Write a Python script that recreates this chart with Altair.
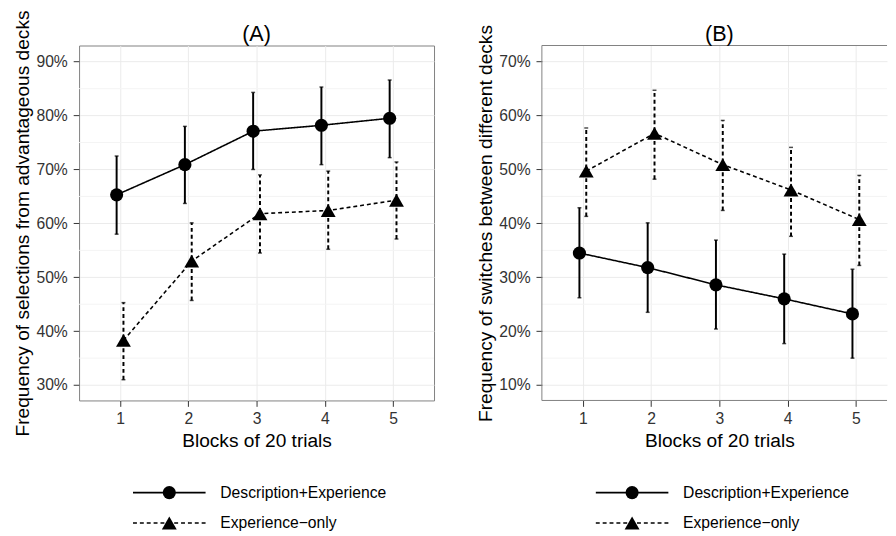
import altair as alt
import pandas as pd

FONT = "Liberation Sans"

blocks = [1, 2, 3, 4, 5]
series_names = ["Description+Experience", "Experience\u2212only"]

# Panel A: frequency of selections from advantageous decks (%)
a_de_mean = [65.3, 70.9, 77.1, 78.2, 79.5]
a_de_low = [58.0, 63.7, 70.0, 70.9, 72.2]
a_de_high = [72.5, 78.0, 84.3, 85.3, 86.6]
a_eo_mean = [38.3, 53.0, 61.8, 62.4, 64.3]
a_eo_low = [31.0, 45.7, 54.5, 55.2, 57.1]
a_eo_high = [45.3, 60.1, 69.0, 69.7, 71.4]

# Panel B: frequency of switches between different decks (%)
b_de_mean = [34.5, 31.8, 28.6, 26.0, 23.2]
b_de_low = [26.2, 23.5, 20.4, 17.7, 15.0]
b_de_high = [42.9, 40.1, 36.9, 34.3, 31.5]
b_eo_mean = [49.7, 56.7, 50.9, 46.2, 40.7]
b_eo_low = [41.3, 48.2, 42.4, 37.6, 32.2]
b_eo_high = [57.7, 64.7, 59.1, 54.1, 48.9]

a_ticks = [30, 40, 50, 60, 70, 80, 90]
a_minor = [35, 45, 55, 65, 75, 85]
b_ticks = [10, 20, 30, 40, 50, 60, 70]
b_minor = [15, 25, 35, 45, 55, 65]


def frame(de_mean, de_low, de_high, eo_mean, eo_low, eo_high):
    rows = []
    for s, m, lo, hi in [(series_names[0], de_mean, de_low, de_high),
                         (series_names[1], eo_mean, eo_low, eo_high)]:
        for b, mm, l, h in zip(blocks, m, lo, hi):
            rows.append({"block": b, "series": s, "mean": mm, "low": l, "high": h})
    return pd.DataFrame(rows)


H = 362
FULL_W = 362

dash = alt.StrokeDash("series:N", scale=alt.Scale(domain=series_names, range=[[1, 0], [4, 3]]), legend=None)
shape = alt.Shape("series:N", scale=alt.Scale(domain=series_names, range=["circle", "triangle-up"]), legend=None)
size = alt.Size("series:N", scale=alt.Scale(domain=series_names, range=[180, 230]), legend=None)


def panel(df, y_domain, ticks, minor, ytitle, title, width, x_max, cut):
    dodge = "datum.block + (datum.series === '%s' ? -0.05 : 0.05)" % series_names[0]
    xaxis = alt.Axis(values=blocks, format="d", title="Blocks of 20 trials", grid=True,
                     titleX=FULL_W / 2, labelPadding=4.5, titlePadding=5.5)
    x = alt.X("xpos:Q", scale=alt.Scale(domain=[0.4, x_max], nice=False, zero=False), axis=xaxis)
    yaxis = alt.Axis(values=ticks, labelExpr="datum.value + '%'", title=ytitle, grid=True,
                     labelPadding=6, titlePadding=3.5)
    yscale = alt.Scale(domain=y_domain, nice=False, zero=False)

    def Y(field):
        return alt.Y(field + ":Q", scale=yscale, axis=yaxis)

    minor_df = pd.DataFrame({"mean": minor})
    minor_layer = alt.Chart(minor_df).mark_rule(color="#f4f4f4", strokeWidth=1).encode(y=Y("mean"))

    base = alt.Chart(df).transform_calculate(xpos=dodge)
    lines = base.mark_line(color="black", strokeWidth=1.6).encode(x=x, y=Y("mean"), strokeDash=dash)
    bars = base.mark_rule(color="black", strokeWidth=2).encode(
        x=x, y=Y("low"), y2="high:Q", strokeDash=dash)
    cap_lo = base.mark_tick(color="black", orient="horizontal", size=4, thickness=1.5).encode(x=x, y=Y("low"))
    cap_hi = base.mark_tick(color="black", orient="horizontal", size=4, thickness=1.5).encode(x=x, y=Y("high"))
    pts = base.mark_point(filled=True, opacity=1, color="black").encode(
        x=x, y=Y("mean"), shape=shape, size=size)

    layers = [minor_layer, lines, bars, cap_lo, cap_hi, pts]
    one = pd.DataFrame({"k": [0]})
    if cut:
        bc = "#7f7f7f"
        layers += [
            alt.Chart(one).mark_rule(color=bc, strokeWidth=1).encode(
                x=alt.value(0), x2=alt.value(width), y=alt.value(0)),
            alt.Chart(one).mark_rule(color=bc, strokeWidth=1).encode(
                x=alt.value(0), y=alt.value(0), y2=alt.value(H)),
            alt.Chart(one).mark_rule(color=bc, strokeWidth=1).encode(
                x=alt.value(0), x2=alt.value(width), y=alt.value(H)),
        ]
    main = alt.layer(*layers)

    title_df = pd.DataFrame({"t": [title]})
    title_layer = alt.Chart(title_df).mark_text(
        fontSize=22, font=FONT, color="black", align="center", baseline="alphabetic").encode(
        x=alt.value(FULL_W / 2), y=alt.value(-5), text="t:N")

    leg_df = pd.DataFrame({"series": series_names})
    ly = alt.Y("series:N", scale=alt.Scale(type="point", domain=series_names, range=[456, 487], padding=0),
               axis=None)
    leg = alt.Chart(leg_df)
    legend = alt.layer(
        leg.mark_rule(color="black", strokeWidth=1.6).encode(
            x=alt.value(55), x2=alt.value(129), y=ly, strokeDash=dash),
        leg.mark_point(filled=True, opacity=1, color="black").encode(
            x=alt.value(92), y=ly, shape=shape, size=size),
        leg.mark_text(align="left", baseline="middle", fontSize=16, font=FONT, color="black").encode(
            x=alt.value(144), y=ly, text="series:N"),
    )
    view = alt.ViewBackground(stroke="transparent") if cut else alt.ViewBackground(stroke="#7f7f7f", strokeWidth=1)
    return alt.layer(main, title_layer, legend).resolve_scale(y="independent").properties(
        width=width, height=H, view=view,
    )


dfA = frame(a_de_mean, a_de_low, a_de_high, a_eo_mean, a_eo_low, a_eo_high)
dfB = frame(b_de_mean, b_de_low, b_de_high, b_eo_mean, b_eo_low, b_eo_high)

WB = 352
chartA = panel(dfA, [27.15, 93.0], a_ticks, a_minor,
               "Frequency of selections from advantageous decks", "(A)", FULL_W, 5.6, False)
chartB = panel(dfB, [7.15, 73.0], b_ticks, b_minor,
               "Frequency of switches between different decks", "(B)", WB, 0.4 + WB * 5.2 / FULL_W, True)

chart = alt.hconcat(chartA, chartB, spacing=40).properties(
    padding={"left": 3.5, "top": -4, "right": 0, "bottom": 0}
).configure(font=FONT).configure_axis(
    labelFont=FONT, titleFont=FONT, labelFontSize=16, titleFontSize=19.5, titleFontWeight="normal",
    labelColor="#333333", titleColor="black", tickColor="#333333", tickSize=6, tickWidth=1,
    gridColor="#ebebeb", gridWidth=1, domain=False,
).configure_view(stroke="#7f7f7f")

chart.save("out.html", embed_options={"renderer": "svg", "actions": False})
